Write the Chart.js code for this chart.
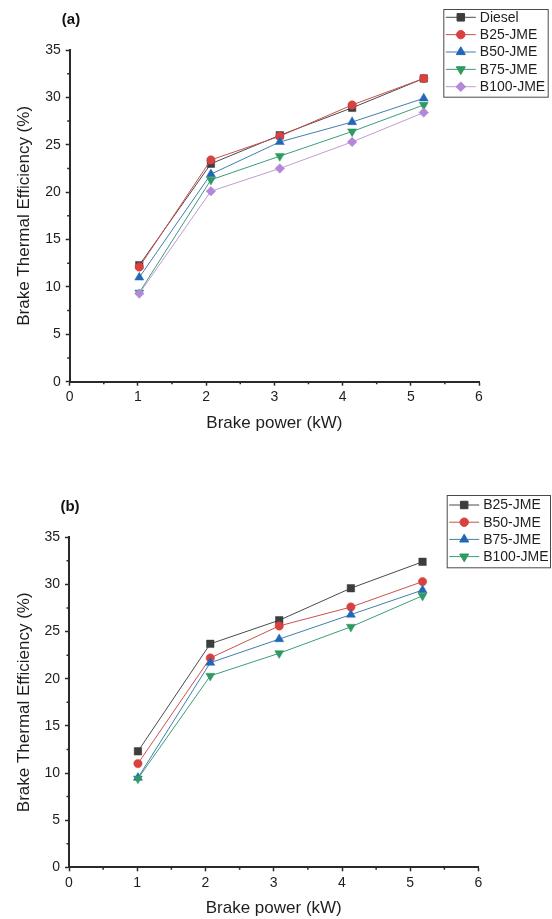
<!DOCTYPE html>
<html>
<head>
<meta charset="utf-8">
<script src="https://cdn.jsdelivr.net/npm/chart.js@4.4.1/dist/chart.umd.min.js"></script>
<style>
    html, body { margin: 0; padding: 0; background: #fff; overflow: hidden; }
    .panel { position: absolute; left: 0; width: 552px; }
    #panelA { top: 0; height: 440px; }
    #panelB { top: 436px; height: 483px; }
</style>
</head>
<body>
<div class="panel" id="panelA"><canvas id="chartA"></canvas></div>
<div class="panel" id="panelB"><canvas id="chartB"></canvas></div>
<script>
// brake power (kW) for each load step
const brakePowerA = [1.02, 2.07, 3.08, 4.14, 5.19];
const brakePowerB = [1.01, 2.07, 3.08, 4.13, 5.18];

// tick labels
const powerTicks = [0, 1, 2, 3, 4, 5, 6];
const effTicks = [0, 5, 10, 15, 20, 25, 30, 35];

// (a) brake thermal efficiency (%)
const namesA = ['Diesel', 'B25-JME', 'B50-JME', 'B75-JME', 'B100-JME'];
const dieselA = [12.3, 23.0, 26.0, 28.9, 32.0];
const b25A = [12.1, 23.4, 25.9, 29.2, 32.0];
const b50A = [11.0, 21.9, 25.3, 27.4, 29.9];
const b75A = [9.4, 21.3, 23.8, 26.4, 29.2];
const b100A = [9.3, 20.1, 22.5, 25.3, 28.4];

// (b) brake thermal efficiency (%)
const namesB = ['B25-JME', 'B50-JME', 'B75-JME', 'B100-JME'];
const b25B = [12.3, 23.7, 26.2, 29.6, 32.4];
const b50B = [11.0, 22.2, 25.6, 27.6, 30.3];
const b75B = [9.5, 21.7, 24.2, 26.8, 29.4];
const b100B = [9.4, 20.3, 22.7, 25.5, 28.8];

const FONT = "'Liberation Sans', Arial, Helvetica, sans-serif";
const AXIS = '#2a2a2a';
const TEXT = '#1e1e1e';

const markers = {
    square:   { pointStyle: 'rect', pointRadius: 5.3, pointRotation: 0, fill: '#3d3d3d', line: '#4a4a4a' },
    circle:   { pointStyle: 'circle', pointRadius: 4.2, pointRotation: 0, fill: '#d9413f', line: '#c8514e' },
    triUp:    { pointStyle: 'triangle', pointRadius: 5.2, pointRotation: 0, fill: '#2266b8', line: '#3f7fae' },
    triDown:  { pointStyle: 'triangle', pointRadius: 5.2, pointRotation: 180, fill: '#2e9a62', line: '#3c9c7a' },
    diamond:  { pointStyle: 'rectRot', pointRadius: 4.8, pointRotation: 0, fill: '#b587d9', line: '#c39ad6' }
};

function makeDataset(label, xs, ys, style, index, count) {
    return {
        label: label,
        data: xs.map((x, i) => ({ x: x, y: ys[i] })),
        borderColor: style.line,
        borderWidth: 1,
        pointStyle: style.pointStyle,
        pointRadius: style.pointRadius,
        pointRotation: style.pointRotation,
        pointBackgroundColor: style.fill,
        pointBorderColor: style.fill,
        pointBorderWidth: 0.5,
        showLine: true,
        fill: false,
        tension: 0,
        // later series are painted over earlier ones
        order: count - index
    };
}

function tickArray(values) {
    return function(scale) {
        scale.ticks = values.map(v => ({ value: v }));
    };
}

const panelDecor = {
    id: 'panelDecor',
    afterDraw(chart, args, opts) {
        const ctx = chart.ctx;
        const xs = chart.scales.x, ys = chart.scales.y;
        const area = chart.chartArea;
        ctx.save();

        // minor ticks half way between majors, pointing outwards
        ctx.strokeStyle = AXIS;
        ctx.lineWidth = 1.5;
        ctx.beginPath();
        for (let i = 0; i < xs.ticks.length - 1; i++) {
            const px = xs.getPixelForValue((xs.ticks[i].value + xs.ticks[i + 1].value) / 2);
            ctx.moveTo(px, area.bottom);
            ctx.lineTo(px, area.bottom + 2.5);
        }
        for (let i = 0; i < ys.ticks.length - 1; i++) {
            const py = ys.getPixelForValue((ys.ticks[i].value + ys.ticks[i + 1].value) / 2);
            ctx.moveTo(area.left, py);
            ctx.lineTo(area.left - 2.5, py);
        }
        ctx.stroke();

        // panel tag
        ctx.fillStyle = '#111';
        ctx.font = 'bold 15px ' + FONT;
        ctx.textAlign = 'center';
        ctx.textBaseline = 'middle';
        ctx.fillText(opts.tag, opts.tagX, opts.tagY);

        // boxed legend
        const lg = opts.legend;
        const sets = chart.data.datasets;
        ctx.fillStyle = '#fff';
        ctx.fillRect(lg.left, lg.top, lg.width, lg.height);
        ctx.strokeStyle = '#4a4a4a';
        ctx.lineWidth = 1;
        ctx.strokeRect(lg.left + 0.5, lg.top + 0.5, lg.width, lg.height);
        ctx.font = '14px ' + FONT;
        ctx.textAlign = 'left';
        sets.forEach((ds, i) => {
            const y = lg.top + lg.firstRow + i * lg.rowGap;
            ctx.strokeStyle = ds.borderColor;
            ctx.lineWidth = 1;
            ctx.beginPath();
            ctx.moveTo(lg.left + 2.5, y);
            ctx.lineTo(lg.left + 32.5, y);
            ctx.stroke();
            ctx.fillStyle = ds.pointBackgroundColor;
            ctx.strokeStyle = ds.pointBorderColor;
            Chart.helpers.drawPoint(ctx, {
                pointStyle: ds.pointStyle,
                radius: ds.pointRadius,
                rotation: ds.pointRotation,
                borderWidth: 0.5
            }, lg.left + 17.5, y);
            ctx.fillStyle = TEXT;
            ctx.fillText(ds.label, lg.left + 36.5, y + 0.5);
        });
        ctx.restore();
    }
};

function renderPanel(canvas, size, frame, datasets, decor) {
    canvas.setAttribute('width', size.width);
    canvas.setAttribute('height', size.height);
    return new Chart(canvas.getContext('2d'), {
        type: 'scatter',
        data: { datasets: datasets },
        options: {
            responsive: false,
            animation: false,
            events: [],
            layout: {
                padding: {
                    left: 0,
                    top: frame.top,
                    right: size.width - frame.right,
                    bottom: size.height - frame.bottom - frame.xAxisHeight
                }
            },
            plugins: {
                legend: { display: false },
                tooltip: { enabled: false },
                panelDecor: decor
            },
            scales: {
                x: {
                    type: 'linear',
                    min: powerTicks[0],
                    max: powerTicks[powerTicks.length - 1],
                    afterBuildTicks: tickArray(powerTicks),
                    afterFit(scale) { scale.height = frame.xAxisHeight; },
                    border: { display: true, color: AXIS, width: 2 },
                    grid: { drawOnChartArea: false, drawTicks: true, tickLength: 4, tickWidth: 1.5, tickColor: AXIS, color: AXIS },
                    ticks: { color: TEXT, font: { family: FONT, size: 14 }, padding: 3, maxRotation: 0 },
                    title: {
                        display: true,
                        text: 'Brake power (kW)',
                        color: TEXT,
                        font: { family: FONT, size: 17 },
                        padding: { top: 0, bottom: 0 }
                    }
                },
                y: {
                    type: 'linear',
                    min: effTicks[0],
                    max: effTicks[effTicks.length - 1],
                    afterBuildTicks: tickArray(effTicks),
                    afterFit(scale) { scale.width = frame.left; },
                    border: { display: true, color: AXIS, width: 2 },
                    grid: { drawOnChartArea: false, drawTicks: true, tickLength: 4, tickWidth: 1.5, tickColor: AXIS, color: AXIS },
                    ticks: { color: TEXT, font: { family: FONT, size: 14 }, padding: 5 },
                    title: {
                        display: true,
                        text: 'Brake Thermal Efficiency (%)',
                        color: TEXT,
                        font: { family: FONT, size: 17 },
                        padding: { top: 14, bottom: 0 }
                    }
                }
            }
        },
        plugins: [panelDecor]
    });
}

const seriesA = [dieselA, b25A, b50A, b75A, b100A];
const stylesA = [markers.square, markers.circle, markers.triUp, markers.triDown, markers.diamond];
const datasetsA = namesA.map((name, i) =>
    makeDataset(name, brakePowerA, seriesA[i], stylesA[i], i, namesA.length));

const seriesB = [b25B, b50B, b75B, b100B];
const stylesB = [markers.square, markers.circle, markers.triUp, markers.triDown];
const datasetsB = namesB.map((name, i) =>
    makeDataset(name, brakePowerB, seriesB[i], stylesB[i], i, namesB.length));

renderPanel(document.getElementById('chartA'),
    { width: 552, height: 440 },
    { left: 69.7, right: 479, top: 50, bottom: 381.7, xAxisHeight: 51.8 },
    datasetsA,
    {
        tag: '(a)', tagX: 71, tagY: 20,
        legend: { left: 443.3, top: 9, width: 104.4, height: 87.7, firstRow: 8.3, rowGap: 17.35 }
    });

renderPanel(document.getElementById('chartB'),
    { width: 552, height: 483 },
    { left: 69, right: 478.5, top: 101.3, bottom: 431.3, xAxisHeight: 51.7 },
    datasetsB,
    {
        tag: '(b)', tagX: 70, tagY: 70.7,
        legend: { left: 446.7, top: 59, width: 103.3, height: 72.3, firstRow: 10, rowGap: 17.2 }
    });
</script>
</body>
</html>
